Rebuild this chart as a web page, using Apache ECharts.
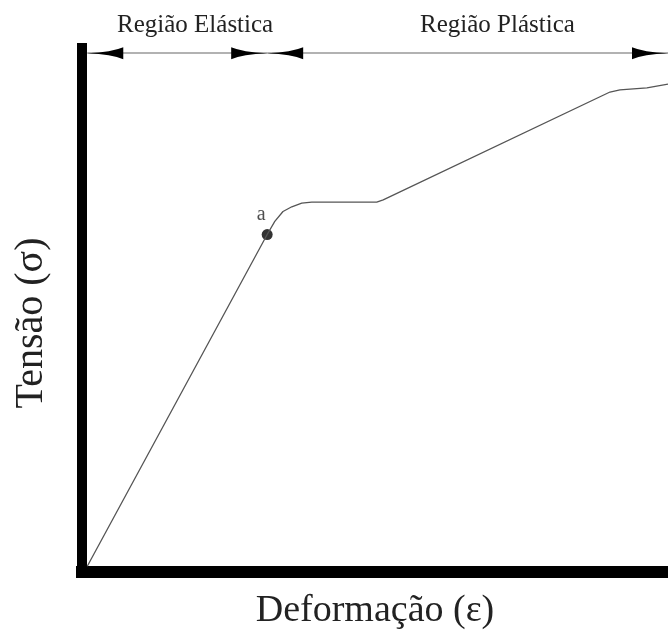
<!DOCTYPE html>
<html>
<head>
<meta charset="utf-8">
<title>Tensão x Deformação</title>
<script src="https://cdn.jsdelivr.net/npm/echarts@6/dist/echarts.min.js"></script>
<style>
  html, body { margin: 0; padding: 0; background: #fff; }
  #chart { width: 668px; height: 635px; }
</style>
</head>
<body>
<div id="chart"></div>
<script>
// curva tensão x deformação (unidades arbitrárias, 0..100)
const strain = [0.9, 31.6, 32.9, 34.3, 35.8, 37.5, 39.2, 50.3, 51.4, 90.1, 91.8, 96.4, 100]
const stress = [1.1, 64.4, 66.9, 68.8, 69.7, 70.4, 70.6, 70.6, 71.0, 91.6, 92.0, 92.4, 93.1]

// ponto "a" = limite elástico
const pointA = [31.6, 64.4]

// cota das regiões (altura e limites em x)
const regionY = 99
const regionStart = 0.9
const regionSplit = 31.6
const regionEnd = 100
const regionNames = ['Região Elástica', 'Região Plástica']

const serif = "'Liberation Serif', 'DejaVu Serif', serif"
// triângulo com a ponta no centro da caixa (ponta aponta para fora da cota)
const arrowHead = 'path://M5,-35 M5,0 Q6,24 10,35 L0,35 Q4,24 5,0 Z'

const regionSegments = [
  [{ coord: [regionStart, regionY] }, { coord: [regionSplit, regionY] }],
  [{ coord: [regionSplit, regionY] }, { coord: [regionEnd, regionY] }],
]

const chart = echarts.init(document.getElementById('chart'))

chart.setOption({
  animation: false,
  backgroundColor: '#fff',
  grid: { left: 82, right: 0, top: 48, bottom: 62 },
  xAxis: {
    type: 'value',
    min: 0,
    max: 100,
    name: 'Deformação (ε)',
    nameLocation: 'middle',
    nameGap: 20,
    nameTextStyle: { fontFamily: serif, fontSize: 38, color: '#222' },
    axisLine: { lineStyle: { color: '#000', width: 12, cap: 'square' } },
    axisTick: { show: false },
    axisLabel: { show: false },
    splitLine: { show: false },
  },
  yAxis: {
    type: 'value',
    min: 0,
    max: 100,
    name: 'Tensão (σ)',
    nameLocation: 'middle',
    nameGap: 31,
    nameTextStyle: { fontFamily: serif, fontSize: 40, color: '#222', padding: [0, 26, 0, 0] },
    axisLine: { show: true, lineStyle: { color: '#000', width: 10, cap: 'square' } },
    axisTick: { show: false },
    axisLabel: { show: false },
    splitLine: { show: false },
  },
  graphic: [
    {
      type: 'text',
      left: 117,
      top: 13,
      style: { text: regionNames[0], font: '25px ' + serif, fill: '#222' },
    },
    {
      type: 'text',
      left: 420,
      top: 13,
      style: { text: regionNames[1], font: '25px ' + serif, fill: '#222' },
    },
  ],
  series: [
    {
      type: 'line',
      data: strain.map((x, i) => [x, stress[i]]),
      showSymbol: false,
      lineStyle: { color: '#555', width: 1.3 },
      silent: true,
      // linha fina cinza da cota
      markLine: {
        silent: true,
        symbol: ['none', 'none'],
        label: { show: false },
        lineStyle: { color: '#999', width: 1.5, type: 'solid' },
        data: regionSegments,
      },
    },
    {
      type: 'scatter',
      data: [pointA],
      symbolSize: 11,
      itemStyle: { color: '#000' },
      label: {
        show: true,
        formatter: 'a',
        position: 'top',
        distance: 4,
        offset: [-6, 0],
        fontFamily: serif,
        fontSize: 20,
        color: '#222',
      },
      silent: true,
      // setas pretas da cota (linha de largura 0)
      markLine: {
        silent: true,
        symbol: [arrowHead, arrowHead],
        symbolSize: [12, 72],
        label: { show: false },
        lineStyle: { color: '#000', width: 0, type: 'solid' },
        data: regionSegments,
      },
    },
  ],
})
</script>
</body>
</html>
